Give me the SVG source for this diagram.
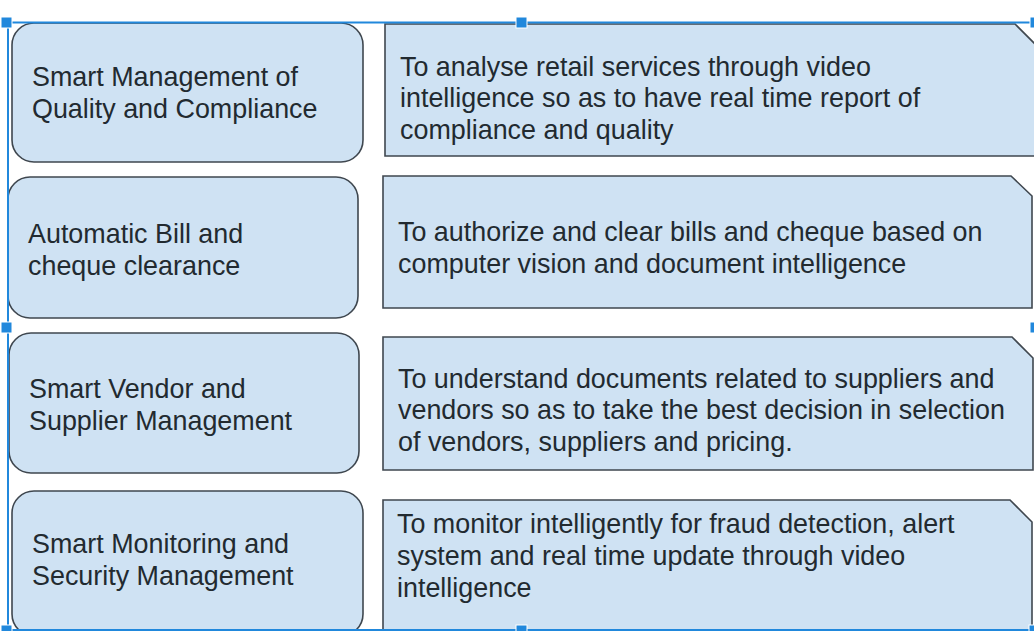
<svg xmlns="http://www.w3.org/2000/svg" width="1034" height="631" viewBox="0 0 1034 631">
<style>
.box{fill:#cfe2f3;stroke:#3f474f;stroke-width:1.6}
.t{font-family:"Liberation Sans",Arial,sans-serif;font-size:26.9px;fill:#222a30}
.sel{stroke:#2188dc;stroke-width:2;fill:none}
.h{fill:#2188dc;stroke:#ffffff;stroke-width:1}
</style>
<rect x="0" y="0" width="1034" height="631" fill="#ffffff"/>

<g id="node-quality">
<rect class="box" x="12" y="23" width="351" height="139" rx="22"/>
<text class="t" x="32" y="86">Smart Management of</text>
<text class="t" x="32" y="118">Quality and Compliance</text>
</g>
<g id="node-quality-desc">
<path class="box" d="M385 24 H1015 L1040 49 V156 H385 Z"/>
<text class="t" x="400" y="76">To analyse retail services through video</text>
<text class="t" x="400" y="107">intelligence so as to have real time report of</text>
<text class="t" x="400" y="139">compliance and quality</text>
</g>

<g id="node-bill">
<rect class="box" x="8" y="177" width="350" height="141" rx="22"/>
<text class="t" x="28" y="243">Automatic Bill and</text>
<text class="t" x="28" y="275">cheque clearance</text>
</g>
<g id="node-bill-desc">
<path class="box" d="M383 176 H1011 L1032 196 V308 H383 Z"/>
<text class="t" x="398" y="241">To authorize and clear bills and cheque based on</text>
<text class="t" x="398" y="273">computer vision and document intelligence</text>
</g>

<g id="node-vendor">
<rect class="box" x="9" y="333" width="350" height="140" rx="22"/>
<text class="t" x="29" y="398">Smart Vendor and</text>
<text class="t" x="29" y="430">Supplier Management</text>
</g>
<g id="node-vendor-desc">
<path class="box" d="M383 337 H1012 L1033 358 V470 H383 Z"/>
<text class="t" x="398" y="388">To understand documents related to suppliers and</text>
<text class="t" x="398" y="419">vendors so as to take the best decision in selection</text>
<text class="t" x="398" y="451">of vendors, suppliers and pricing.</text>
</g>

<g id="node-security">
<rect class="box" x="12" y="491" width="351" height="145" rx="22"/>
<text class="t" x="32" y="553">Smart Monitoring and</text>
<text class="t" x="32" y="585">Security Management</text>
</g>
<g id="node-security-desc">
<path class="box" d="M383 500 H1010 L1032 522 V640 H383 Z"/>
<text class="t" x="397" y="533">To monitor intelligently for fraud detection, alert</text>
<text class="t" x="397" y="565">system and real time update through video</text>
<text class="t" x="397" y="597">intelligence</text>
</g>

<g id="selection">
<path class="sel" d="M8 630 V22.5 H1040"/>
<path class="sel" d="M8 630 H1040"/>
<rect class="h" x="1" y="17" width="11" height="11"/>
<rect class="h" x="516" y="17" width="11" height="11"/>
<rect class="h" x="1030" y="17" width="11" height="11"/>
<rect class="h" x="1" y="322" width="11" height="11"/>
<rect class="h" x="1030" y="322" width="11" height="11"/>
<rect class="h" x="1" y="625" width="11" height="11"/>
<rect class="h" x="516" y="625" width="11" height="11"/>
<rect class="h" x="1029" y="625" width="11" height="11"/>
</g>
</svg>
